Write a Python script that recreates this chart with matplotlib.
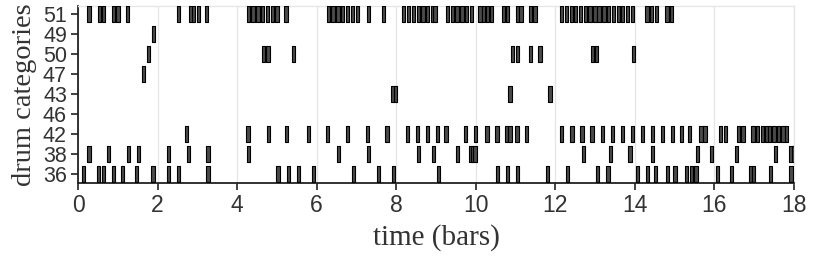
import numpy as np
import matplotlib
matplotlib.use("Agg")
import matplotlib.pyplot as plt

# drum categories, bottom to top
categories = [36, 38, 42, 46, 43, 47, 50, 49, 51]

# note onsets (bars) per drum
onsets_36 = [0.10, 0.47, 0.60, 0.855, 1.08, 1.43, 1.84, 2.24, 2.48, 3.23,
             4.99, 5.25, 5.50, 5.88, 6.88, 7.51, 7.89, 9.02, 10.51, 10.76,
             11.00, 11.76, 12.27, 13.02, 13.28, 14.03, 14.28, 14.47, 14.78,
             14.97, 15.26, 15.38, 15.49, 16.03, 16.38, 16.87, 16.94, 17.37, 17.88]
onsets_38 = [0.235, 0.73, 1.22, 1.475, 2.24, 2.73, 3.23, 4.24, 6.50, 7.26,
             8.51, 8.89, 9.50, 9.82, 9.88, 9.94, 12.66, 13.34, 13.83, 14.40,
             15.53, 15.88, 16.51, 17.50, 17.88, 17.94]
onsets_42 = [2.69, 4.23, 4.74, 5.20, 5.75, 6.23, 6.74, 7.23, 7.73, 8.24, 8.49,
             8.74, 9.00, 9.21, 9.70, 9.95, 10.24, 10.49, 10.73, 10.82, 10.99,
             11.24, 12.12, 12.38, 12.63, 12.88, 13.14, 13.39, 13.65, 13.89,
             14.15, 14.40, 14.65, 14.90, 15.13, 15.33, 15.62, 15.72, 16.11,
             16.23, 16.57, 16.68, 16.93, 17.04, 17.16, 17.26, 17.34, 17.45,
             17.57, 17.68, 17.77]
onsets_46 = []
onsets_43 = [7.88, 7.94, 10.82, 11.82]
onsets_47 = [1.60]
onsets_50 = [1.73, 4.62, 4.73, 5.37, 10.88, 11.00, 11.33, 11.57, 12.89, 13.00, 13.93]
onsets_49 = [1.86]
onsets_51 = [0.235, 0.495, 0.595, 0.855, 0.964, 1.207, 2.48, 2.80, 2.86, 2.99,
             3.19, 4.24, 4.36, 4.48, 4.60, 4.72, 4.84, 4.96, 5.19, 6.25, 6.37,
             6.49, 6.61, 6.74, 6.86, 6.99, 7.26, 7.64, 8.14, 8.26, 8.39, 8.51,
             8.63, 8.75, 8.87, 8.93, 9.25, 9.37, 9.49, 9.61, 9.73, 9.85, 10.06,
             10.15, 10.25, 10.35, 10.65, 10.75, 11.00, 11.09, 11.33, 11.45,
             12.12, 12.24, 12.36, 12.47, 12.59, 12.71, 12.83, 12.95, 13.06,
             13.18, 13.30, 13.42, 13.54, 13.65, 13.77, 13.89, 14.26, 14.38,
             14.50, 14.76, 14.88]

all_onsets = [onsets_36, onsets_38, onsets_42, onsets_46, onsets_43,
              onsets_47, onsets_50, onsets_49, onsets_51]
note_len = 0.085

fig = plt.figure(figsize=(8.3, 2.61), dpi=100)
ax = fig.add_axes([78 / 830, (261 - 183) / 261, (794 - 78) / 830, (183 - 6) / 261])

for i, ons in enumerate(all_onsets):
    if ons:
        ax.broken_barh([(o, note_len) for o in ons], (i - 0.4, 0.8),
                       facecolors="#4a4a4a", edgecolors="black", linewidth=0.8,
                       zorder=3)

ax.set_xlim(0, 18)
ax.set_ylim(-0.45, 8.4)
ax.set_xticks(np.arange(0, 19, 2))
ax.set_yticks(range(len(categories)))
ax.set_yticklabels([str(c) for c in categories])

ax.grid(axis="x", color="#e6e6e6", linewidth=1.0, zorder=0)
ax.set_axisbelow(True)
for s in ["top", "right"]:
    ax.spines[s].set_color("#e6e6e6")
    ax.spines[s].set_linewidth(1.0)
for s in ["left", "bottom"]:
    ax.spines[s].set_color("#222222")
    ax.spines[s].set_linewidth(1.3)

ax.tick_params(axis="both", direction="out", length=5, width=1.2,
               color="#222222", labelcolor="#333333", pad=3)
ax.tick_params(axis="x", labelsize=16.5)
ax.tick_params(axis="y", labelsize=15.5)
for lab in ax.get_xticklabels() + ax.get_yticklabels():
    lab.set_family("Liberation Sans")

ax.set_xlabel("time (bars)", family="Liberation Serif", fontsize=21,
              color="#333333", labelpad=5)
ax.set_ylabel("drum categories", family="Liberation Serif", fontsize=20.5,
              color="#333333", labelpad=4)

fig.savefig("out.png", dpi=100)
